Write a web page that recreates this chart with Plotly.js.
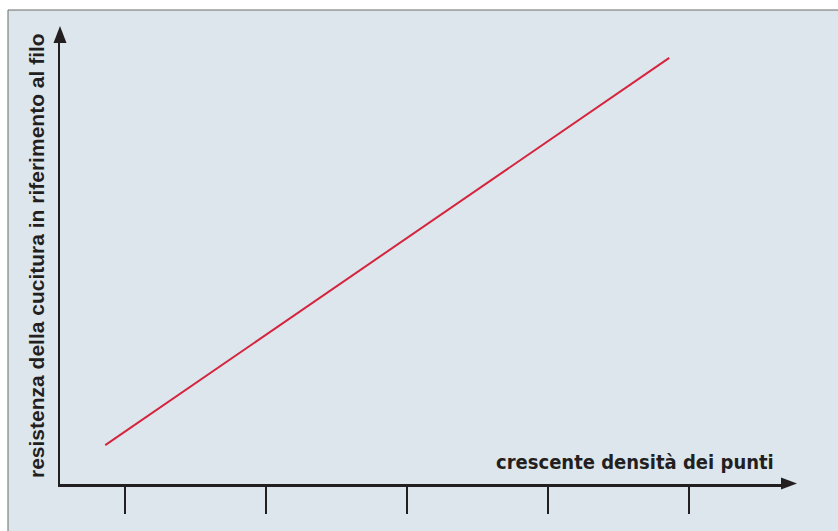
<!DOCTYPE html>
<html>
<head>
<meta charset="utf-8">
<script src="https://cdn.plot.ly/plotly-3.0.1.min.js"></script>
<style>html,body{margin:0;padding:0;background:#fff;}#chart{width:838px;height:531px;}</style>
</head>
<body>
<div id="chart"></div>
<script>
// Data (x in tick units, y in arbitrary units 0-10)
var tickPositions = [1, 2, 3, 4, 5];
var lineX = [0.86, 4.86];
var lineY = [0.88, 9.64];
var xTitle = "crescente densità dei punti";
var yTitle = "resistenza della cucitura in riferimento al filo";

var W = 838, H = 531;
var L = 60, R = 782, T = 42, B = 484;
// convert figure pixel to plot-area paper coords
function px(x){ return (x - L) / (R - L); }
function py(y){ return (B - y) / (B - T); }

var ink = "#231f20";

var trace = {
  x: lineX, y: lineY, type: "scatter", mode: "lines",
  line: {color: "#d5243e", width: 2},
  hoverinfo: "skip", showlegend: false
};

var layout = {
  width: W, height: H,
  margin: {l: L, r: W - R, t: T, b: H - B},
  paper_bgcolor: "#ffffff",
  plot_bgcolor: "rgba(0,0,0,0)",
  showlegend: false,
  xaxis: {
    range: [1 - 65/141, 1 + 657/141],
    showgrid: false, zeroline: false,
    showline: true, linecolor: ink, linewidth: 2.5,
    ticks: "outside", tickvals: tickPositions, ticklen: 27, tickwidth: 2, tickcolor: ink,
    showticklabels: false, fixedrange: true
  },
  yaxis: {
    range: [0, 10],
    showgrid: false, zeroline: false,
    showline: true, linecolor: ink, linewidth: 2.5,
    ticks: "", showticklabels: false, fixedrange: true
  },
  shapes: [
    {type: "rect", xref: "paper", yref: "paper", layer: "below",
     x0: px(8), x1: px(845), y0: py(10), y1: py(540),
     fillcolor: "#dde6ec", line: {color: "#6b6b6b", width: 1}},
    {type: "path", xref: "paper", yref: "paper",
     path: "M " + px(60) + " " + py(26) + " L " + px(53.5) + " " + py(43) + " L " + px(66.5) + " " + py(43) + " Z",
     fillcolor: ink, line: {width: 0}},
    {type: "path", xref: "paper", yref: "paper",
     path: "M " + px(797) + " " + py(483.5) + " L " + px(781) + " " + py(477.5) + " L " + px(781) + " " + py(489.5) + " Z",
     fillcolor: ink, line: {width: 0}}
  ],
  annotations: [
    {text: "<b>" + yTitle + "</b>", xref: "paper", yref: "paper",
     x: px(37), y: py(256), xanchor: "center", yanchor: "middle",
     textangle: -90, showarrow: false,
     font: {family: "Liberation Sans, Arial, sans-serif", size: 21, color: ink}},
    {text: "<b>" + xTitle + "</b>", xref: "paper", yref: "paper",
     x: px(776), y: py(462), xanchor: "right", yanchor: "middle",
     showarrow: false,
     font: {family: "DejaVu Sans Condensed, Liberation Sans Narrow, sans-serif", size: 20, color: ink}}
  ]
};

Plotly.newPlot("chart", [trace], layout, {staticPlot: true, displayModeBar: false});
</script>
</body>
</html>
